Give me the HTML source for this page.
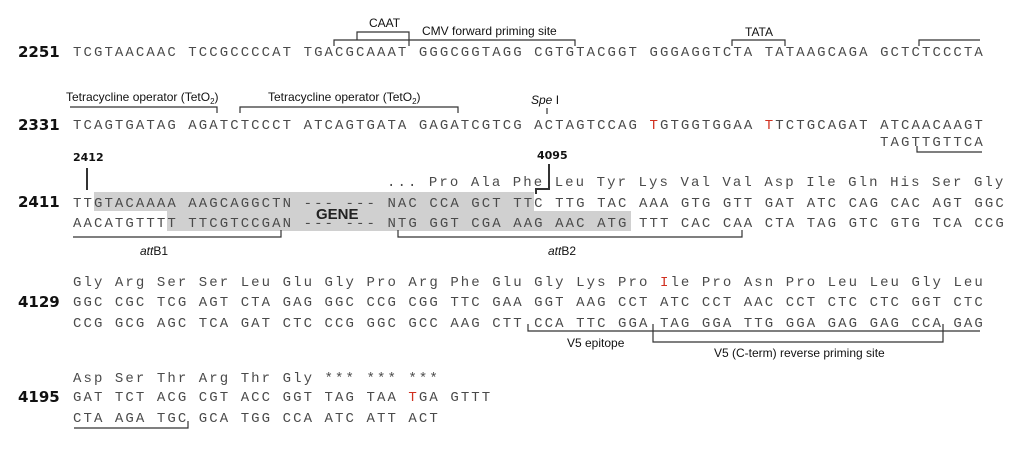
<!DOCTYPE html>
<html><head><meta charset="utf-8"><style>
html,body{margin:0;padding:0;background:#fff;width:1024px;height:459px;overflow:hidden}
svg text{white-space:pre}
.s{font-family:"Liberation Mono",monospace;font-size:14px;letter-spacing:2.08px;fill:#4a4a4a}
.n{font-family:"DejaVu Sans","Liberation Sans",sans-serif;font-weight:bold;font-size:15px;fill:#111}
.l{font-family:"Liberation Sans",sans-serif;font-size:12px;fill:#111}
.r{fill:#d03020}
line,polyline{stroke:#333;stroke-width:1.2;fill:none}
</style></head><body>
<svg width="1024" height="459" xmlns="http://www.w3.org/2000/svg">
<rect x="94" y="192" width="440" height="19" fill="#d0d0d0"/>
<rect x="167" y="211" width="464" height="20" fill="#d0d0d0"/>

<text class="n" x="18" y="57">2251</text>
<text class="s" x="73" y="56">TCGTAACAAC TCCGCCCCAT TGACGCAAAT GGGCGGTAGG CGTGTACGGT GGGAGGTCTA TATAAGCAGA GCTCTCCCTA</text>
<polyline points="334,46 334,40 575,40 575,46"/>
<polyline points="357,40 357,32 409,32 409,46"/>
<text class="l" x="369" y="27">CAAT</text>
<text class="l" x="422" y="35">CMV forward priming site</text>
<polyline points="732,46 732,40 785,40 785,46"/>
<text class="l" x="745" y="36">TATA</text>
<polyline points="919,46 919,40 980,40"/>

<text class="l" x="66" y="101">Tetracycline operator (TetO<tspan font-size="8" dy="3">2</tspan><tspan dy="-3">)</tspan></text>
<text class="l" x="268" y="101">Tetracycline operator (TetO<tspan font-size="8" dy="3">2</tspan><tspan dy="-3">)</tspan></text>
<polyline points="70,107 217,107 217,113"/>
<polyline points="240,113 240,107 458,107 458,113"/>
<text class="l" x="531" y="104"><tspan font-style="italic">Spe</tspan> I</text>
<line x1="547" y1="108" x2="547" y2="114"/>
<text class="n" x="18" y="130">2331</text>
<text class="s" x="73" y="129">TCAGTGATAG AGATCTCCCT ATCAGTGATA GAGATCGTCG ACTAGTCCAG <tspan class="r">T</tspan>GTGGTGGAA <tspan class="r">T</tspan>TCTGCAGAT ATCAACAAGT</text>
<text class="s" x="880" y="146">TAGTTGTTCA</text>
<polyline points="917,146 917,152 982,152"/>

<text class="n" x="73" y="161" style="font-size:11px">2412</text>
<line x1="87" y1="168" x2="87" y2="190" style="stroke-width:2"/>
<text class="n" x="537" y="159" style="font-size:11px">4095</text>
<polyline points="549,164 549,189 536,189 536,194" style="stroke-width:2"/>
<text class="s" x="387" y="186">... Pro Ala Phe Leu Tyr Lys Val Val Asp Ile Gln His Ser Gly</text>
<text class="n" x="18" y="207">2411</text>
<text class="s" x="73" y="207">TTGTACAAAA AAGCAGGCTN --- --- NAC CCA GCT TTC TTG TAC AAA GTG GTT GAT ATC CAG CAC AGT GGC</text>
<text class="s" x="73" y="227">AACATGTTTT TTCGTCCGAN --- --- NTG GGT CGA AAG AAC ATG TTT CAC CAA CTA TAG GTC GTG TCA CCG</text>
<text x="316" y="219" style="font-family:'Liberation Sans',sans-serif;font-weight:bold;font-size:15px;fill:#222">GENE</text>
<polyline points="73,237 281,237 281,230"/>
<text class="l" x="140" y="255"><tspan font-style="italic">att</tspan>B1</text>
<polyline points="398,230 398,237 742,237 742,230"/>
<text class="l" x="548" y="255"><tspan font-style="italic">att</tspan>B2</text>

<text class="s" x="73" y="286">Gly Arg Ser Ser Leu Glu Gly Pro Arg Phe Glu Gly Lys Pro <tspan class="r">I</tspan>le Pro Asn Pro Leu Leu Gly Leu</text>
<text class="n" x="18" y="307">4129</text>
<text class="s" x="73" y="306">GGC CGC TCG AGT CTA GAG GGC CCG CGG TTC GAA GGT AAG CCT ATC CCT AAC CCT CTC CTC GGT CTC</text>
<text class="s" x="73" y="327">CCG GCG AGC TCA GAT CTC CCG GGC GCC AAG CTT CCA TTC GGA TAG GGA TTG GGA GAG GAG CCA GAG</text>
<polyline points="528,324 528,331 980,331"/>
<polyline points="653,324 653,342 943,342 943,324"/>
<text class="l" x="567" y="347">V5 epitope</text>
<text class="l" x="714" y="357">V5 (C-term) reverse priming site</text>

<text class="s" x="73" y="382">Asp Ser Thr Arg Thr Gly *** *** ***</text>
<text class="n" x="18" y="402">4195</text>
<text class="s" x="73" y="401">GAT TCT ACG CGT ACC GGT TAG TAA <tspan class="r">T</tspan>GA GTTT</text>
<text class="s" x="73" y="422">CTA AGA TGC GCA TGG CCA ATC ATT ACT</text>
<polyline points="74,428 188,428 188,421"/>
</svg>
</body></html>
